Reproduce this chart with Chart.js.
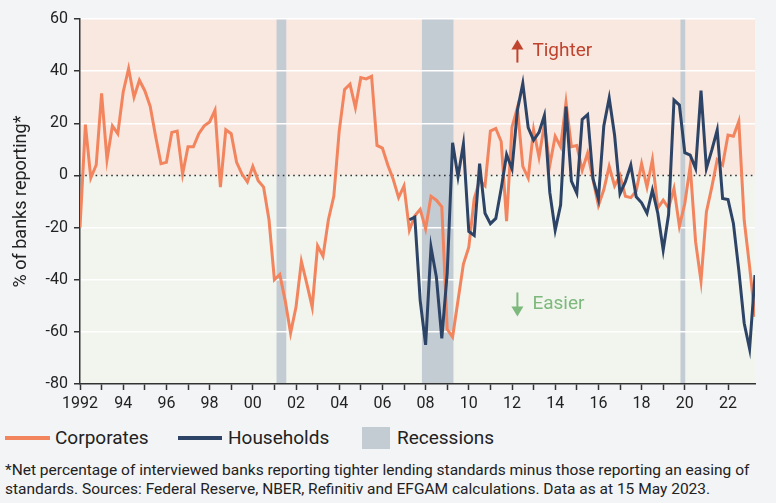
<!DOCTYPE html>
<html>
<head>
<meta charset="utf-8">
<script src="https://cdn.jsdelivr.net/npm/chart.js@4.4.1/dist/chart.umd.min.js"></script>
<style>
  body { margin: 0; background: #f3f4f6; font-family: Roboto, "Liberation Sans", sans-serif; color: #222; }
  #wrap { position: relative; width: 776px; height: 503px; }
  #myChart { position: absolute; left: 0; top: 0; }
  .legend { position: absolute; top: 426px; left: 0; height: 24px; width: 776px; font-size: 19px; }
  .legend span { position: absolute; top: 0; line-height: 24px; }
  .swatch-line { position: absolute; height: 4px; top: 10px; }
  .swatch-box { position: absolute; top: 1px; height: 22px; width: 28px; background: #c3cbd3; }
  .note { position: absolute; left: 5px; top: 461px; width: 760px; font-size: 15.5px; line-height: 19px; color: #222; }
</style>
</head>
<body>
<div id="wrap">
  <canvas id="myChart" width="776" height="420"></canvas>
  <div class="legend">
    <div class="swatch-line" style="left:5px;width:45px;background:#f2845e"></div>
    <span style="left:55px">Corporates</span>
    <div class="swatch-line" style="left:178px;width:44px;background:#2d4466"></div>
    <span style="left:228px">Households</span>
    <div class="swatch-box" style="left:362px"></div>
    <span style="left:397px">Recessions</span>
  </div>
  <div class="note">*Net percentage of interviewed banks reporting tighter lending standards minus those reporting an easing of standards. Sources: Federal Reserve, NBER, Refinitiv and EFGAM calculations. Data as at 15 May 2023.</div>
</div>
<script>
// quarterly survey values, corporates start 1992 Q1
const corpStart = 1992;
const corporates = [
  -20, 19.5, -1, 4,
  31.5, 6, 19, 16,
  32, 41, 30, 36.5,
  32.5, 26.5, 15, 4.5,
  5, 16.5, 17, 0.5,
  11, 11, 16, 19,
  20.5, 25, -4.5, 17.5,
  16, 5, 0.5, -2.5,
  3.5, -2, -4.5, -17,
  -40, -38, -48, -60.5,
  -50.5, -33, -41.5, -50.5,
  -27, -31, -17, -8,
  17, 33, 35, 26,
  37.5, 37, 38, 11.5,
  10.5, 4, -1.5, -8.5,
  -4, -21, -15.5, -13,
  -20.5, -8, -9.5, -12,
  -59, -62, -48, -34,
  -27.5, -9, -2, -4,
  17, 18, 13, -17.5,
  18.5, 26, 3.5, -1,
  17.5, 7, 19.5, 4,
  15, 11, 28, 11,
  11.5, 2, 8.5, -1.5,
  -11.5, -5.5, 3.5, -4,
  0, -8, -8.5, -6,
  4.5, -4.5, 6, -12.5,
  -9.5, -12.5, -5, -19.5,
  -10.8, 3.6, -25.5, -40.5,
  -14, -4.5, 6, 4,
  15.5, 15, 20.7, -17.2,
  -35, -54.2
];

// households start 2007 Q2
const hhStart = 2007.25;
const households = [
  -17, -16, -48,
  -65, -27.5, -39, -62.5,
  -37.5, 12.5, -0.5, 12,
  -21.5, -23, 4.5, -14.5,
  -18.5, -16.5, -5, 8,
  2.5, 25, 35.3, 18.3,
  13.5, 16.5, 23, -6.5,
  -21, -11.4, 26.4, -2.2,
  -6.8, 21.5, 23.3, -1.2,
  -9, 19, 29.7, 15.4,
  -7, -2.4, 4, -8.2,
  -10.5, -14.5, -5.6, -14.5,
  -28.6, -15, 28.9, 27,
  8.7, 7.8, 2.7, 32.5,
  2.7, 9.7, 17.4, -8.8,
  -9.2, -18.4, -36.3, -56.7,
  -66.5, -38.2
];

// NBER recessions (approx. start / end as decimal years)
const recessionStart = [2001.1, 2007.83, 2019.8];
const recessionEnd = [2001.55, 2009.29, 2020.02];

const yTicks = [-80, -60, -40, -20, 0, 20, 40, 60];

const toPoints = (start, values) => values.map((v, i) => ({ x: start + i * 0.25, y: v }));

const backgroundPlugin = {
  id: 'backgroundPlugin',
  beforeDraw(chart) {
    const { ctx, chartArea, scales } = chart;
    const x = scales.x, y = scales.y;
    const zero = y.getPixelForValue(0);
    ctx.save();
    ctx.fillStyle = '#f9e8e0';
    ctx.fillRect(chartArea.left, chartArea.top, chartArea.width, zero - chartArea.top);
    ctx.fillStyle = '#f1f5ee';
    ctx.fillRect(chartArea.left, zero, chartArea.width, chartArea.bottom - zero);
    ctx.fillStyle = '#c3cbd3';
    recessionStart.forEach((s, i) => {
      const x1 = x.getPixelForValue(s);
      const x2 = x.getPixelForValue(recessionEnd[i]);
      ctx.fillRect(x1, chartArea.top, x2 - x1, chartArea.height);
    });
    ctx.restore();
  },
  beforeDatasetsDraw(chart) {
    const { ctx, chartArea, scales } = chart;
    const zero = scales.y.getPixelForValue(0);
    ctx.save();
    ctx.strokeStyle = '#333';
    ctx.lineWidth = 1.6;
    ctx.setLineDash([1.6, 3.6]);
    ctx.beginPath();
    ctx.moveTo(chartArea.left, zero);
    ctx.lineTo(chartArea.right, zero);
    ctx.stroke();
    ctx.restore();

    // Tighter / Easier labels
    const ax = scales.x.getPixelForValue(2012.25);
    const drawArrow = (yFrom, yTo, color) => {
      const dir = yTo < yFrom ? -1 : 1;
      ctx.strokeStyle = color;
      ctx.fillStyle = color;
      ctx.lineWidth = 2;
      ctx.beginPath();
      ctx.moveTo(ax, yFrom);
      ctx.lineTo(ax, yTo - dir * 8);
      ctx.stroke();
      ctx.beginPath();
      ctx.moveTo(ax - 6, yTo - dir * 10);
      ctx.lineTo(ax + 6, yTo - dir * 10);
      ctx.lineTo(ax, yTo);
      ctx.closePath();
      ctx.fill();
    };
    ctx.save();
    const yT = scales.y.getPixelForValue(47.5);
    drawArrow(yT + 11, yT - 12, '#c0432e');
    ctx.font = '19px Roboto, "Liberation Sans", sans-serif';
    ctx.textBaseline = 'middle';
    ctx.fillStyle = '#c0432e';
    ctx.fillText('Tighter', ax + 15, yT);
    const yE = scales.y.getPixelForValue(-49.5);
    drawArrow(yE - 12, yE + 12, '#7db87c');
    ctx.fillStyle = '#7db87c';
    ctx.fillText('Easier', ax + 15, yE);
    ctx.restore();
  }
};

const ctx = document.getElementById('myChart').getContext('2d');
const myChart = new Chart(ctx, {
  type: 'line',
  data: {
    datasets: [
      {
        label: 'Households',
        data: toPoints(hhStart, households),
        borderColor: '#2d4466',
        borderWidth: 3,
        pointRadius: 0,
        tension: 0,
        order: 1
      },
      {
        label: 'Corporates',
        data: toPoints(corpStart, corporates),
        borderColor: '#f2845e',
        borderWidth: 3,
        pointRadius: 0,
        tension: 0,
        order: 2
      }
    ]
  },
  options: {
    responsive: false,
    animation: false,
    layout: { padding: { top: 19, right: 21, left: 0, bottom: 0 } },
    plugins: {
      legend: { display: false },
      tooltip: { enabled: false }
    },
    scales: {
      x: {
        type: 'linear',
        min: 1992,
        max: 2023.25,
        afterFit: (scale) => { scale.height = 36; },
        afterBuildTicks: (scale) => {
          scale.ticks = scale.ticks.filter(t => Number.isInteger(t.value));
        },
        ticks: {
          stepSize: 1,
          autoSkip: false,
          maxRotation: 0,
          padding: 4,
          color: '#222',
          font: { size: 16, family: 'Roboto, "Liberation Sans", sans-serif' },
          callback: (v) => {
            if (v % 2 !== 0) return '';
            return v === 1992 ? '1992' : String(v).slice(2);
          }
        },
        grid: { drawOnChartArea: false, tickLength: 6, tickColor: '#333', tickWidth: 1.5 },
        border: { color: '#333', width: 1.5 }
      },
      y: {
        min: -80,
        max: 60,
        afterFit: (scale) => { scale.width = 80; },
        afterBuildTicks: (scale) => {
          scale.ticks = yTicks.map(v => ({ value: v }));
        },
        ticks: {
          padding: 6,
          color: '#222',
          font: { size: 16, family: 'Roboto, "Liberation Sans", sans-serif' }
        },
        title: {
          display: true,
          text: '% of banks reporting*',
          color: '#222',
          padding: { top: 11, bottom: 0 },
          font: { size: 18, family: 'Roboto, "Liberation Sans", sans-serif' }
        },
        grid: {
          color: (c) => (c.tick && c.tick.value === 0) || c.index === 0 ? 'rgba(0,0,0,0)' : '#ffffff',
          lineWidth: 1.5,
          tickLength: 6,
          tickColor: '#333',
          tickWidth: 1.5
        },
        border: { color: '#333', width: 1.5 }
      }
    }
  },
  plugins: [backgroundPlugin]
});
</script>
</body>
</html>
